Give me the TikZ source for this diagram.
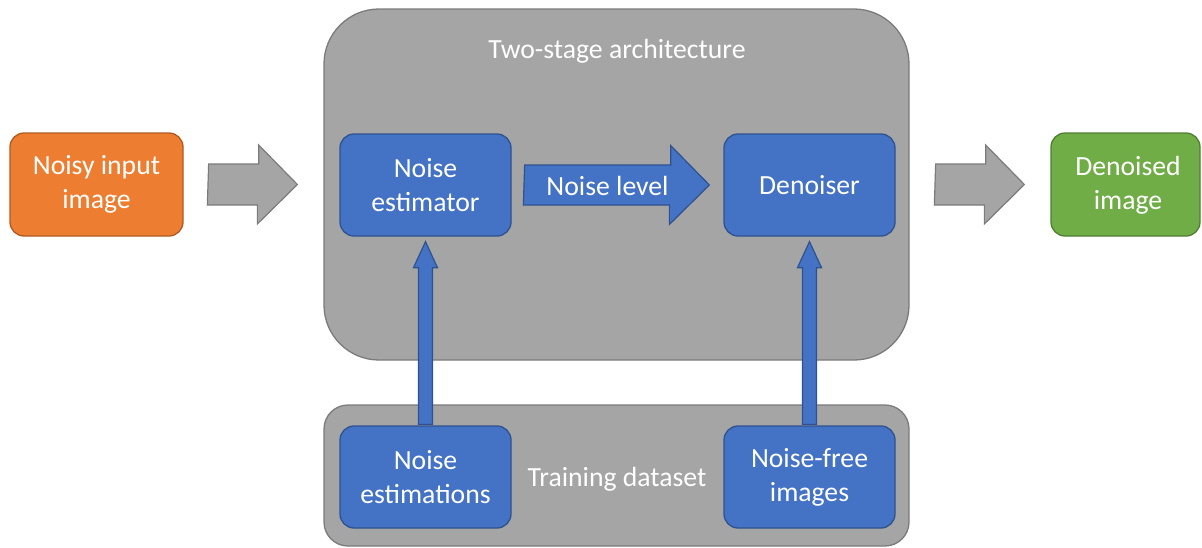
\documentclass[tikz,border=0pt]{standalone}
\usepackage{fontspec}
\setmainfont{Carlito}
\usetikzlibrary{calc}
\definecolor{orf}{HTML}{ED7D31}
\definecolor{ord}{HTML}{AE5A21}
\definecolor{blf}{HTML}{4472C4}
\definecolor{bld}{HTML}{2F528F}
\definecolor{grf}{HTML}{70AD47}
\definecolor{grd}{HTML}{507E32}
\definecolor{gyf}{HTML}{A5A5A5}
\definecolor{gyd}{HTML}{7B7B7B}
\begin{document}
\begin{tikzpicture}[x=1pt,y=-1pt,
  txt/.style={text=white,font=\fontsize{27.7}{34}\selectfont,align=center,inner sep=0pt},
  box/.style={txt,rectangle,rounded corners=14pt,line width=1.3pt,minimum width=171pt,minimum height=102pt},
  bluebox/.style={box,fill=blf,draw=bld},
  container/.style={rectangle,fill=gyf,draw=gyd,line width=1.3pt,inner sep=0pt,minimum width=585pt},
  grayarrow/.style={fill=gyf,draw=gyd,line width=1.2pt,line join=miter},
  bluearrow/.style={fill=blf,draw=bld,line width=1.2pt,line join=miter},
]
\useasboundingbox (0,0) rectangle (1202,547);
% containers
\node[container,rounded corners=55pt,minimum height=351pt] (arch) at (616.5,184.5) {};
\node[container,rounded corners=24pt,minimum height=141pt] (train) at (616.5,475.5) {};
\node[txt] (archlbl) at (617,51) {Two-stage architecture};
\node[txt] (trainlbl) at (617,479) {Training dataset};
% boxes
\node[box,fill=orf,draw=ord,minimum width=173pt,minimum height=103pt] (in) at (96.5,184.5) {Noisy input\\image};
\node[bluebox] (est) at (425.5,185) {Noise\\estimator};
\node[bluebox] (den) at (809.5,185) {Denoiser};
\node[box,fill=grf,draw=grd,minimum width=149pt,minimum height=103pt] (out) at (1125.5,184.5) {};
\node[txt] (outlbl) at (1128,185) {Denoised\\image};
\node[bluebox] (ne) at (425.5,477) {Noise\\estimations};
\node[bluebox] (nf) at (809.5,477) {Noise-free\\images};
% gray block arrows
\draw[grayarrow] ($(in.east)+(25,-20.5)$) -- ++(50,0) -- ++(0,-19) -- ($(arch.west)+(-26,0)$) -- ++(-40,39.5) -- ++(0,-19) -- ++(-50,0) -- cycle;
\draw[grayarrow] ($(arch.east)+(26,-20.5)$) -- ++(50,0) -- ++(0,-19) -- ($(out.west)+(-26,0)$) -- ++(-40,39.5) -- ++(0,-19) -- ++(-50,0) -- cycle;
% noise level arrow
\draw[bluearrow] ($(est.east)+(13,-20)$) -- ++(146,0) -- ++(0,-19.5) -- ($(den.west)+(-14,0)$) -- ++(-40,39.5) -- ++(0,-19.5) -- ++(-146,0) -- cycle;
\node[txt] (nl) at ($(est.east)!0.5!(den.west)+(-10,1)$) {Noise level};
% vertical arrows
\draw[bluearrow] ($(ne.north)+(-7,-1)$) -- ($(est.south)+(-7,31)$) -- ++(-5,0) -- ($(est.south)+(0,5)$) -- ++(12,26) -- ++(-5,0) -- ($(ne.north)+(7,-1)$) -- cycle;
\draw[bluearrow] ($(nf.north)+(-7,-1)$) -- ($(den.south)+(-7,31)$) -- ++(-5,0) -- ($(den.south)+(0,5)$) -- ++(12,26) -- ++(-5,0) -- ($(nf.north)+(7,-1)$) -- cycle;
\end{tikzpicture}
\end{document}
